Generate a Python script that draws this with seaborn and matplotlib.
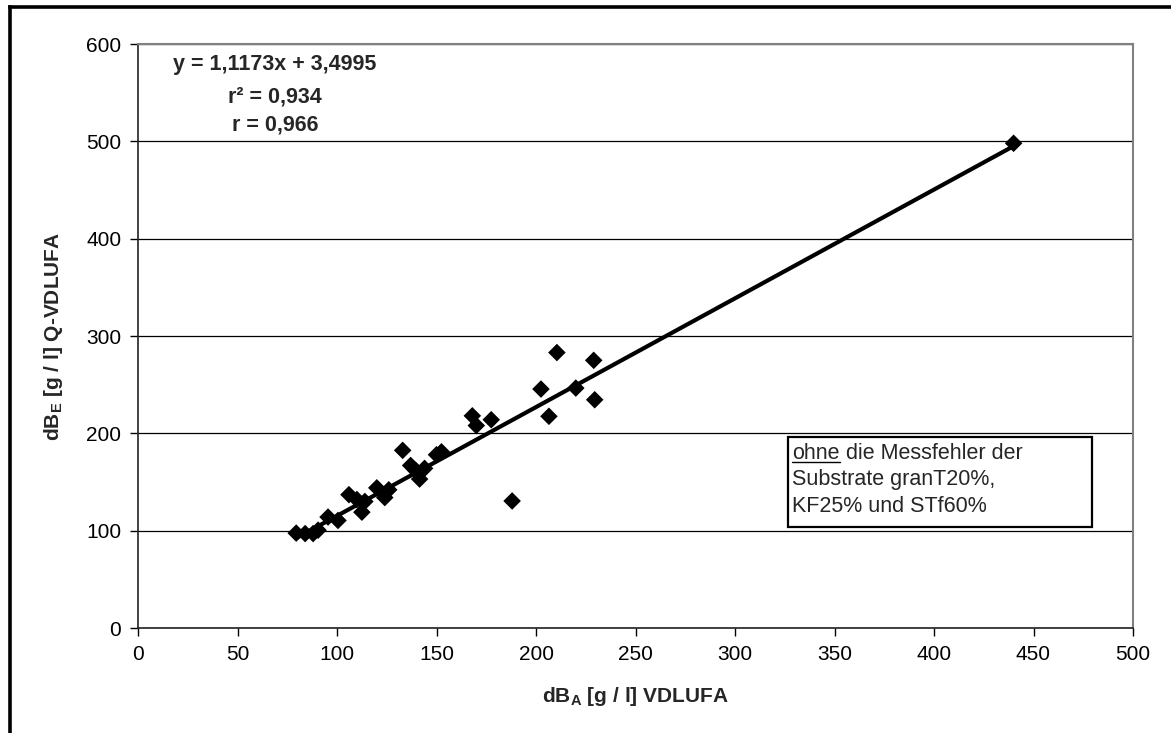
import matplotlib
matplotlib.use("Agg")
import matplotlib.pyplot as plt
from matplotlib.lines import Line2D
import numpy as np
import pandas as pd
import seaborn as sns

# Measured bulk densities: VDLUFA method (x) vs. Q-VDLUFA method (y)
db_vdlufa = [79.5, 84, 88, 90.5, 95.5, 100.5, 106, 110, 114, 112.5, 120, 124, 126,
             133, 137, 139.5, 141.5, 144, 150, 152.5, 168, 170, 177.5, 188, 202.5,
             206.5, 210.5, 220, 229, 229.5, 440]
db_q_vdlufa = [97.5, 97, 97, 100.5, 114, 110.5, 137, 132, 130, 119, 144, 134, 142,
               182.5, 167, 162, 153, 164, 178, 181, 218, 208, 214, 130.5, 245.5,
               217.5, 283, 246.5, 275, 234.5, 498]

# Linear fit as reported
slope = 1.1173
intercept = 3.4995
r_squared = "0,934"
r_value = "0,966"

x_ticks = [0, 50, 100, 150, 200, 250, 300, 350, 400, 450, 500]
y_ticks = [0, 100, 200, 300, 400, 500, 600]

sns.set_theme(style="white")
plt.rcParams["font.family"] = ["Liberation Sans", "DejaVu Sans"]
plt.rcParams["mathtext.fontset"] = "custom"
plt.rcParams["mathtext.rm"] = "Liberation Sans"
plt.rcParams["mathtext.bf"] = "Liberation Sans:bold"

W, H = 1171, 733
fig = plt.figure(figsize=(W / 100, H / 100), dpi=100)
fig.patch.set_facecolor("white")

left_px, right_px, top_px, bottom_px = 138, 1133, 44, 628
ax = fig.add_axes([left_px / W, 1 - bottom_px / H,
                   (right_px - left_px) / W, (bottom_px - top_px) / H])
ax.set_facecolor("white")

df = pd.DataFrame({"x": db_vdlufa, "y": db_q_vdlufa})

# Regression line over the measured range
x_fit = np.array([min(db_vdlufa), max(db_vdlufa)])
fit_df = pd.DataFrame({"x": x_fit, "y": slope * x_fit + intercept})
sns.lineplot(data=fit_df, x="x", y="y", color="black", linewidth=3.0, ax=ax, zorder=3)

sns.scatterplot(data=df, x="x", y="y", marker="D", color="black", s=80,
                edgecolor="none", linewidth=0, ax=ax, zorder=4)

ax.set_xlim(0, 500)
ax.set_ylim(0, 600)
ax.set_xticks(x_ticks)
ax.set_yticks(y_ticks)
ax.set_xticklabels([str(t) for t in x_ticks])
ax.set_yticklabels([str(t) for t in y_ticks])
ax.tick_params(axis="both", which="major", labelsize=15, length=6, width=1,
               color="black", direction="out", pad=6, labelcolor="black")
ax.tick_params(bottom=True, left=True)

ax.yaxis.grid(True, color="black", linewidth=0.9)
ax.xaxis.grid(False)
ax.set_axisbelow(True)

for side in ["left", "bottom"]:
    ax.spines[side].set_color("#222222")
    ax.spines[side].set_linewidth(1.2)
for side in ["top", "right"]:
    ax.spines[side].set_visible(True)
    ax.spines[side].set_color("#808080")
    ax.spines[side].set_linewidth(1.5)

ax.set_xlabel(r"dB$_{\mathbf{A}}$ [g / l] VDLUFA", fontsize=15, fontweight="bold",
              labelpad=15)
ax.set_ylabel(r"dB$_{\mathbf{E}}$ [g / l] Q-VDLUFA", fontsize=15, fontweight="bold",
              labelpad=15)

# Regression statistics
eq_text = f"y = {str(slope).replace('.', ',')}x + {str(intercept).replace('.', ',')}"
fig.text(275 / W, 1 - 70 / H, eq_text, ha="center", va="baseline",
         fontsize=15.5, fontweight="bold")
fig.text(275 / W, 1 - 103 / H, f"r² = {r_squared}", ha="center", va="baseline",
         fontsize=15.5, fontweight="bold")
fig.text(275 / W, 1 - 130 / H, f"r = {r_value}", ha="center", va="baseline",
         fontsize=15.5, fontweight="bold")

# Note box
box_l, box_t, box_r, box_b = 788, 437, 1092, 527
fig.add_artist(plt.Rectangle((box_l / W, 1 - box_b / H), (box_r - box_l) / W,
                             (box_b - box_t) / H, transform=fig.transFigure,
                             facecolor="white", edgecolor="black", linewidth=1.6,
                             zorder=5))
tx = 792 / W
t_ohne = fig.text(tx, 1 - 459 / H, "ohne", ha="left", va="baseline", fontsize=15.5, zorder=6)
fig.canvas.draw()
bb = t_ohne.get_window_extent(renderer=fig.canvas.get_renderer())
fig.text(bb.x1 / W, 1 - 459 / H, " die Messfehler der", ha="left", va="baseline",
         fontsize=15.5, zorder=6)
fig.add_artist(Line2D([bb.x0 / W, bb.x1 / W], [(H - 462) / H, (H - 462) / H],
                      transform=fig.transFigure, color="black", linewidth=1.0, zorder=6))
fig.text(tx, 1 - 485 / H, "Substrate granT20%,", ha="left", va="baseline",
         fontsize=15.5, zorder=6)
fig.text(tx, 1 - 512 / H, "KF25% und STf60%", ha="left", va="baseline",
         fontsize=15.5, zorder=6)

# Outer frame (left and top edges)
fig.add_artist(Line2D([9.5 / W, 9.5 / W], [0, 1 - 6.5 / H], transform=fig.transFigure,
                      color="black", linewidth=2.6, solid_capstyle="projecting"))
fig.add_artist(Line2D([9.5 / W, 1], [1 - 6.5 / H, 1 - 6.5 / H], transform=fig.transFigure,
                      color="black", linewidth=2.6, solid_capstyle="projecting"))

fig.savefig("out.png", dpi=100, facecolor="white")
